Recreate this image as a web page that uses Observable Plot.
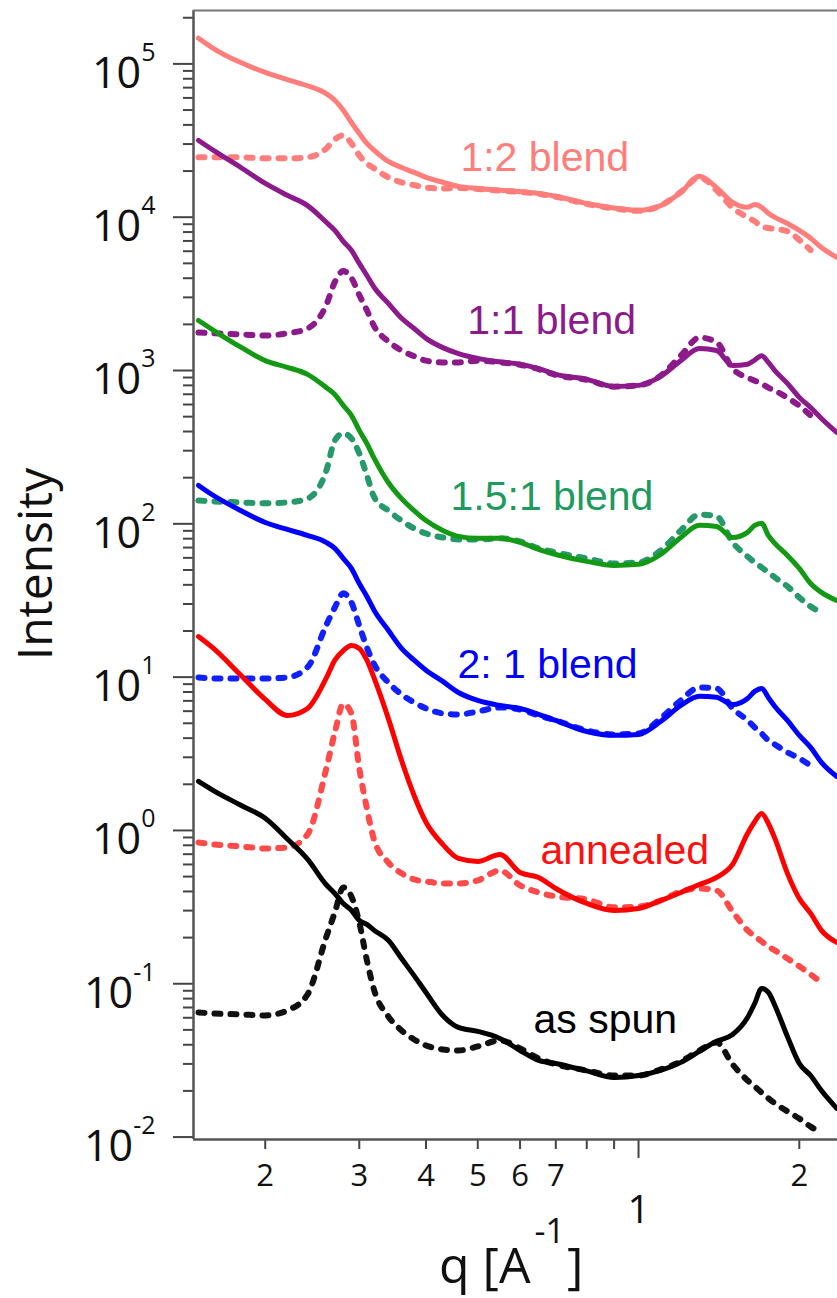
<!DOCTYPE html>
<html>
<head>
<meta charset="utf-8">
<script src="https://cdn.jsdelivr.net/npm/d3@7"></script>
<script src="https://cdn.jsdelivr.net/npm/@observablehq/plot@0.6"></script>
<style>
  html, body { margin: 0; padding: 0; background: #fff; }
  svg { display: block; }
</style>
</head>
<body>
<div id="chart"></div>
<script>
// ---- data (q in 1/Å, intensity a.u.) ----
const q = [0.15, 0.16, 0.18, 0.20, 0.22, 0.24, 0.26, 0.27, 0.28, 0.29, 0.30, 0.31, 0.32, 0.34, 0.36, 0.38, 0.40, 0.43, 0.46, 0.50, 0.55, 0.60, 0.65, 0.70, 0.80, 0.90, 1.0, 1.1, 1.2, 1.3, 1.4, 1.5, 1.6, 1.65, 1.7, 1.75, 1.8, 1.9, 2.0, 2.1, 2.2, 2.35];

const blend12Solid = [1.47e5, 1.26e5, 1.02e5, 8.8e4, 7.9e4, 7.2e4, 6.4e4, 5.8e4, 4.98e4, 4.15e4, 3.52e4, 3.03e4, 2.73e4, 2.31e4, 2.11e4, 1.96e4, 1.82e4, 1.69e4, 1.59e4, 1.54e4, 1.50e4, 1.47e4, 1.43e4, 1.37e4, 1.23e4, 1.15e4, 1.11e4, 1.19e4, 1.45e4, 1.85e4, 1.56e4, 1.25e4, 1.16e4, 1.21e4, 1.16e4, 1.06e4, 9.97e3, 9.1e3, 8.2e3, 7.3e3, 6.35e3, 5.47e3];
const blend12Dotted = [2.46e4, 2.46e4, 2.46e4, 2.42e4, 2.42e4, 2.46e4, 2.8e4, 3.22e4, 3.42e4, 3.03e4, 2.53e4, 2.24e4, 2.08e4, 1.82e4, 1.69e4, 1.62e4, 1.56e4, 1.54e4, 1.55e4, 1.53e4, 1.49e4, 1.46e4, 1.42e4, 1.36e4, 1.22e4, 1.14e4, 1.10e4, 1.19e4, 1.46e4, 1.82e4, 1.50e4, 1.15e4, 1.00e4, 9.4e3, 8.7e3, 8.5e3, 8.4e3, 8.1e3, 7.1e3, 6.1e3, null, null];

const blend11Solid = [3.17e4, 2.73e4, 2.11e4, 1.66e4, 1.39e4, 1.19e4, 9.3e3, 8.2e3, 6.95e3, 6.08e3, 5.0e3, 4.17e3, 3.48e3, 2.74e3, 2.19e3, 1.88e3, 1.62e3, 1.41e3, 1.29e3, 1.20e3, 1.14e3, 1.10e3, 1.03e3, 944, 875, 787, 800, 917, 1.16e3, 1.39e3, 1.35e3, 1.08e3, 1.10e3, 1.17e3, 1.25e3, 1.13e3, 1.0e3, 824, 668, 574, 487, 395];
const blend11Dotted = [1.77e3, 1.75e3, 1.72e3, 1.69e3, 1.75e3, 1.88e3, 2.66e3, 3.78e3, 4.45e3, 4.02e3, 3.11e3, 2.47e3, 1.94e3, 1.55e3, 1.35e3, 1.24e3, 1.16e3, 1.13e3, 1.13e3, 1.16e3, 1.13e3, 1.09e3, 1.02e3, 935, 870, 785, 800, 925, 1.25e3, 1.64e3, 1.53e3, 1.03e3, 898, 859, 820, 773, 738, 664, 589, 510, null, null];

const blend151Solid = [2.12e3, 1.83e3, 1.42e3, 1.16e3, 1.05e3, 944, 776, 698, 592, 510, 407, 334, 267, 186, 146, 122, 105, 90.6, 82.8, 80.4, 80.4, 75.7, 68.1, 63.1, 56.9, 53.5, 54.4, 63.1, 81.5, 97.7, 96.2, 81.5, 88, 97.7, 101, 84, 74.5, 62.2, 51.2, 40.8, 35.7, 31.6];
const blend151Dotted = [142, 140, 138, 136, 138, 146, 220, 350, 389, 361, 288, 207, 149, 122, 105, 93.3, 86.5, 81.5, 79.1, 79.1, 80.4, 76.8, 69.2, 65.1, 59.5, 55.2, 56.0, 67.0, 90.6, 115, 112, 75.7, 61.2, 56.0, 52.0, 48.2, 44.7, 39.1, 33.1, 28.9, 26.4, null];

const blend21Solid = [178, 153, 122, 102, 91.9, 84, 75.7, 69.2, 59.5, 51.2, 40.8, 33.6, 27.2, 20.2, 15.4, 12.9, 11.1, 9.38, 7.94, 7.05, 6.53, 6.25, 5.71, 5.22, 4.42, 4.17, 4.23, 5.14, 6.53, 7.5, 7.4, 6.63, 7.26, 8.07, 8.44, 7.37, 6.44, 5.22, 4.17, 3.48, 2.78, 2.25];
const blend21Dotted = [9.96, 9.81, 9.81, 9.81, 9.96, 11.6, 21.7, 28.5, 35.2, 30.7, 21.7, 15.6, 12.1, 9.23, 7.71, 6.84, 6.25, 5.80, 5.71, 5.97, 6.34, 6.15, 5.62, 5.22, 4.49, 4.23, 4.29, 5.38, 7.05, 8.57, 8.44, 6.25, 5.22, 4.70, 4.29, 3.87, 3.64, 3.23, 2.95, 2.65, null, null];

const annealedSolid = [18.4, 15.4, 10.3, 7.16, 5.62, 6.25, 9.81, 12.9, 14.9, 16.1, 15.4, 12.9, 9.81, 5.38, 2.86, 1.69, 1.13, 0.811, 0.657, 0.628, 0.697, 0.532, 0.494, 0.418, 0.334, 0.301, 0.310, 0.349, 0.394, 0.444, 0.494, 0.600, 0.956, 1.14, 1.29, 1.11, 0.887, 0.525, 0.360, 0.288, 0.223, 0.186];
const annealedDotted = [0.835, 0.811, 0.787, 0.763, 0.775, 0.942, 2.5, 4.36, 6.7, 5.8, 2.54, 1.39, 0.86, 0.618, 0.525, 0.479, 0.465, 0.451, 0.451, 0.472, 0.548, 0.438, 0.394, 0.371, 0.355, 0.315, 0.319, 0.349, 0.400, 0.418, 0.406, 0.296, 0.223, 0.204, 0.189, 0.175, 0.165, 0.146, 0.130, 0.115, 0.102, null];

const asSpunSolid = [2.09, 1.82, 1.46, 1.20, 0.88, 0.65, 0.444, 0.388, 0.334, 0.301, 0.259, 0.244, 0.223, 0.192, 0.146, 0.113, 0.0877, 0.0621, 0.0519, 0.0489, 0.0440, 0.0367, 0.0316, 0.0302, 0.027, 0.0245, 0.0252, 0.0272, 0.0307, 0.0362, 0.0421, 0.0467, 0.0603, 0.0743, 0.0931, 0.088, 0.0722, 0.0453, 0.0302, 0.0252, 0.0201, 0.0154];
const asSpunDotted = [0.0650, 0.0640, 0.0631, 0.0621, 0.0670, 0.0851, 0.200, 0.292, 0.425, 0.371, 0.251, 0.142, 0.0904, 0.0612, 0.0496, 0.0433, 0.0396, 0.0373, 0.0367, 0.0390, 0.0427, 0.0379, 0.0326, 0.0298, 0.0272, 0.0252, 0.0252, 0.0276, 0.0311, 0.0367, 0.0414, 0.0298, 0.0234, 0.0214, 0.0195, 0.0179, 0.0166, 0.0147, 0.0132, 0.0117, 0.0107, null];

// series labels and their anchor positions (q, intensity)
const labelNames = ["1:2 blend", "1:1 blend", "1.5:1 blend", "2: 1 blend", "annealed", "as spun"];
const labelQ = [0.464, 0.478, 0.4446, 0.458, 0.655, 0.636];
const labelI = [2.45e4, 2.12e3, 151, 12.1, 0.741, 0.0585];

// axes
const xDomain = [0.1468, 2.358];
const yDomain = [0.00964, 2.23e5];
const xLabeledTicks = [0.2, 0.3, 0.4, 0.5, 0.6, 0.7, 2];
const xTickLabels = ["2", "3", "4", "5", "6", "7", "2"];
const xMinorTicks = [0.8, 0.9];
const xUnitTick = [1];
const yMajorTicks = [1e-2, 1e-1, 1e0, 1e1, 1e2, 1e3, 1e4, 1e5];
const yExponents = ["-2", "-1", "0", "1", "2", "3", "4", "5"];
const yMinorTicks = [];
for (const p of [-2, -1, 0, 1, 2, 3, 4, 5]) for (const m of [2, 3, 4, 5, 6, 7, 8, 9]) {
  const v = m * Math.pow(10, p);
  if (v < yDomain[1]) yMinorTicks.push(v);
}

// ---- styles ----
const series = [
  {solid: blend12Solid, dotted: blend12Dotted, color: "#ff7d7a", dot: "#ff7d7a", label: "#ff7d7a"},
  {solid: blend11Solid, dotted: blend11Dotted, color: "#8c1a8b", dot: "#8c1a8b", label: "#8c1a8b"},
  {solid: blend151Solid, dotted: blend151Dotted, color: "#149914", dot: "#26996a", label: "#1f9a5e"},
  {solid: blend21Solid, dotted: blend21Dotted, color: "#0000ff", dot: "#1020ff", label: "#0000ff"},
  {solid: annealedSolid, dotted: annealedDotted, color: "#ff0000", dot: "#ff4a4a", label: "#ff1010"},
  {solid: asSpunSolid, dotted: asSpunDotted, color: "#000000", dot: "#111111", label: "#000000"}
];

const rows = arr => q.map((x, i) => ({q: x, I: arr[i] == null ? NaN : arr[i]}));

const lineMarks = [];
series.forEach(s => {
  lineMarks.push(Plot.line(rows(s.dotted), {x: "q", y: "I", stroke: s.dot, strokeWidth: 6, strokeDasharray: "6,10", curve: "monotone-x"}));
});
series.forEach(s => {
  lineMarks.push(Plot.line(rows(s.solid), {x: "q", y: "I", stroke: s.color, strokeWidth: 5, curve: "monotone-x"}));
});

const labels = labelNames.map((name, i) => ({name, q: labelQ[i], I: labelI[i], color: series[i].label}));

const axisStyle = {stroke: "#444", strokeWidth: 2, label: null};

const svg = Plot.plot({
  width: 837,
  height: 1298,
  marginLeft: 193,
  marginRight: 0,
  marginTop: 10,
  marginBottom: 159,
  style: {fontFamily: "'Open Sans', 'DejaVu Sans', sans-serif", background: "#fff", color: "#111", overflow: "visible"},
  x: {type: "log", domain: xDomain},
  y: {type: "log", domain: yDomain},
  marks: [
    ...lineMarks,
    Plot.text(labels, {x: "q", y: "I", text: "name", fill: "color", fontSize: 41, fontFamily: "'Liberation Sans', Arial, sans-serif", textAnchor: "start"}),
    Plot.axisY(yMinorTicks, {tickSize: 10, tickFormat: () => "", ...axisStyle}),
    Plot.axisY(yMajorTicks, {tickSize: 20, tickPadding: 18, fontSize: 43, tickFormat: d => yExponents[yMajorTicks.indexOf(d)], ...axisStyle}),
    Plot.axisX(xMinorTicks, {tickSize: 10, tickFormat: () => "", ...axisStyle}),
    Plot.axisX(xLabeledTicks, {tickSize: 10, tickPadding: 14, fontSize: 31, tickFormat: d => xTickLabels[xLabeledTicks.indexOf(d)], ...axisStyle}),
    Plot.axisX(xUnitTick, {tickSize: 19, tickPadding: 37, fontSize: 39, tickFormat: () => "1", ...axisStyle}),
    Plot.ruleX([xDomain[0]], {stroke: "#555", strokeWidth: 2.5}),
    Plot.ruleY([yDomain[0]], {stroke: "#555", strokeWidth: 2.5}),
    Plot.ruleY([yDomain[1]], {stroke: "#777", strokeWidth: 2})
  ]
});

const root = d3.select(svg);

// superscript exponents on y tick labels
root.selectAll('g[aria-label="y-axis tick label"] text').each(function() {
  const t = this.textContent;
  if (!t) return;
  const sel = d3.select(this);
  sel.text(null).attr("dy", 10);
  sel.append("tspan").text("10");
  sel.append("tspan").attr("dy", -27).attr("font-size", 25).text(t);
});

// axis titles
const xt = root.append("text")
  .attr("text-anchor", "start")
  .attr("font-size", 50).attr("fill", "#111")
  .attr("font-family", "'Open Sans', sans-serif");
xt.append("tspan").attr("x", 439).attr("y", 1283).text("q [A");
xt.append("tspan").attr("y", 1243).attr("dx", 4).attr("font-size", 34).text("-1");
xt.append("tspan").attr("y", 1283).attr("dx", 2).text("]");

root.append("text")
  .attr("transform", "translate(52,564) rotate(-90)")
  .attr("text-anchor", "middle")
  .attr("font-size", 48).attr("fill", "#111")
  .attr("font-family", "'Open Sans', sans-serif")
  .text("Intensity");

document.getElementById("chart").appendChild(svg);
</script>
</body>
</html>
